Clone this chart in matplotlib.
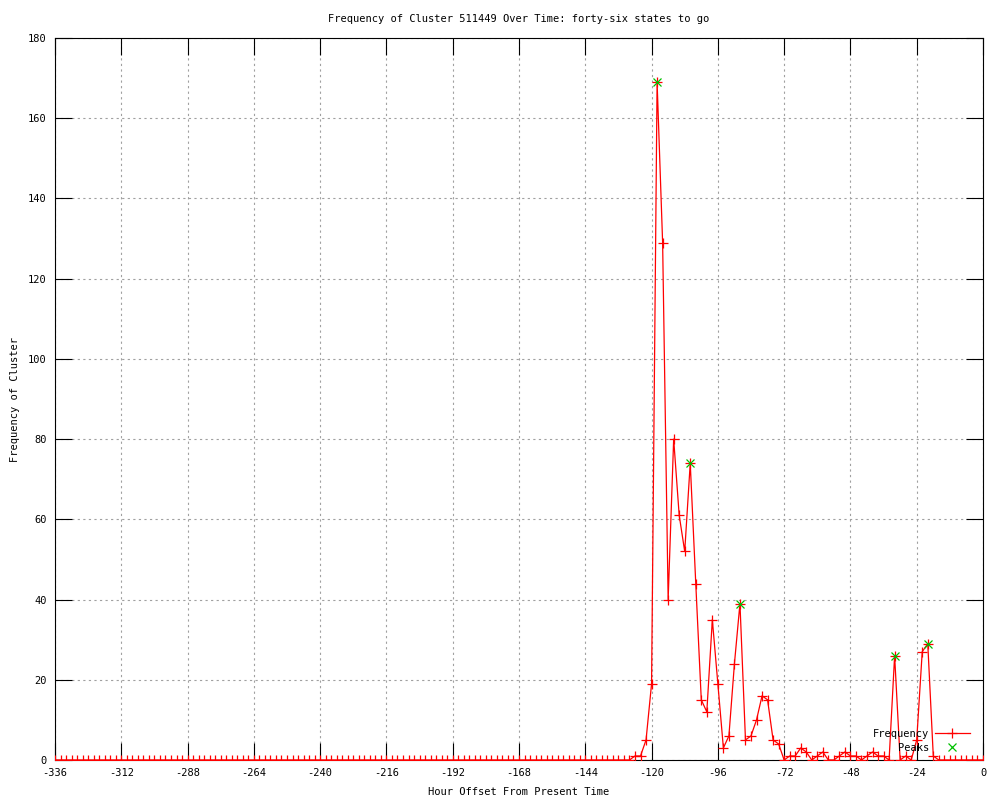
import numpy as np
import matplotlib
matplotlib.use("Agg")
import matplotlib.pyplot as plt

# Horas relativas al presente (paso de 2 h)
horas = np.arange(-336, 1, 2)

# Frecuencia: ceros hasta -130, luego el tramo activo
frecuencia = [0] * 104 + [
    0, 1, 1, 5, 19, 169, 129, 40, 80, 61, 52, 74,
    44, 15, 12, 35, 19, 3, 6, 24, 39, 5, 6, 10,
    16, 15, 5, 4, 0, 1, 1, 3, 2, 0, 1, 2,
    0, 0, 1, 2, 1, 1, 0, 1, 2, 1, 1, 0,
    26, 0, 1, 0, 5, 27, 29, 1,
    0, 0, 0, 0, 0, 0, 0, 0, 0,
]

# Picos detectados
picos_h = [-118, -106, -88, -32, -20]
picos_f = [169, 74, 39, 26, 29]

xticks = list(range(-336, 1, 24))
yticks = list(range(0, 181, 20))

titulo = "Frequency of Cluster 511449 Over Time: forty-six states to go"

plt.rcParams['font.family'] = ['DejaVu Sans Mono']
plt.rcParams['axes.unicode_minus'] = False
fs = 7.5

fig = plt.figure(figsize=(10, 8), dpi=100)
ax = fig.add_axes([0.055, 0.05, 0.928, 0.9025])

ax.plot(horas, frecuencia, color='#ff0000', lw=0.9, marker='+', ms=7,
        mew=0.9, label='Frequency', zorder=3)
ax.plot(picos_h, picos_f, ls='none', color='#00c000', marker='x', ms=6,
        mew=0.9, label='Peaks', zorder=4)

ax.set_xlim(-336, 0)
ax.set_ylim(0, 180)
ax.set_xticks(xticks)
ax.set_yticks(yticks)
ax.tick_params(direction='in', length=12, width=0.8, top=True, right=True,
               labelsize=fs, pad=6)
ax.grid(True, color='#a0a0a0', ls=(0, (2, 3)), lw=0.8)
for s in ax.spines.values():
    s.set_linewidth(0.8)

ax.set_title(titulo, fontsize=fs, pad=11.5)
ax.set_xlabel("Hour Offset From Present Time", fontsize=fs, labelpad=6.5)
ax.set_ylabel("Frequency of Cluster", fontsize=fs, va='center')
ax.yaxis.set_label_coords(-0.043, 0.5)

ax.legend(loc='lower right', bbox_to_anchor=(0.994, 0.0), frameon=False,
          markerfirst=False, fontsize=fs, handlelength=3.4, labelspacing=0.35,
          handletextpad=0.5, borderpad=0.2)

fig.savefig("out.png", dpi=100)
